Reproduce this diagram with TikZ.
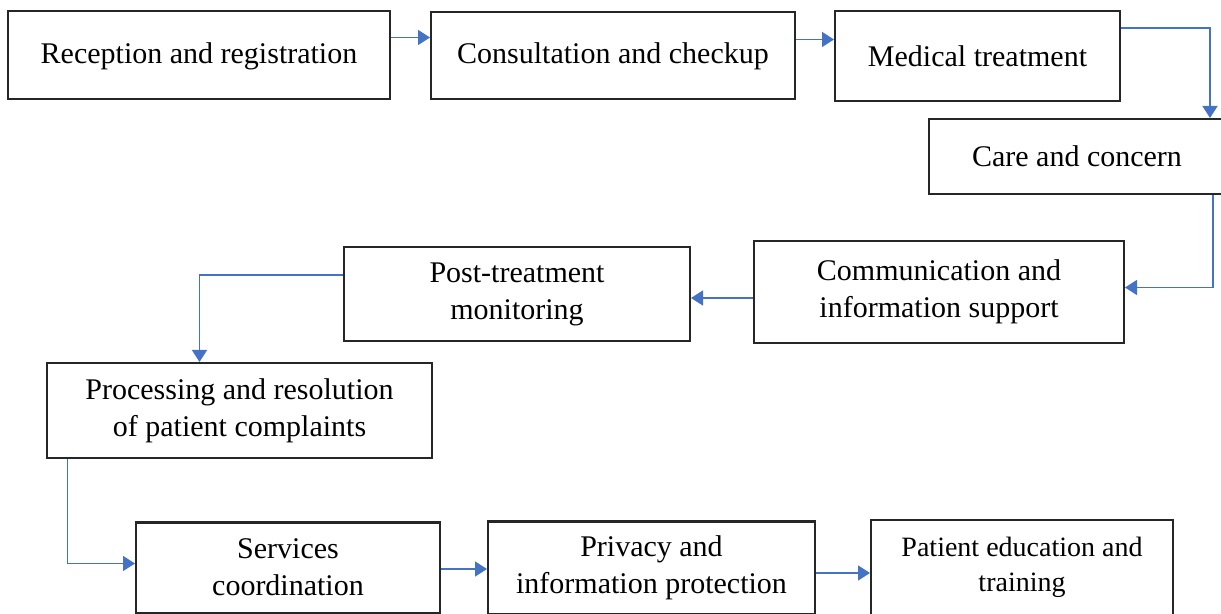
\documentclass[tikz,border=0pt]{standalone}
\usepackage{fontspec}
\setmainfont{Liberation Serif}
\usetikzlibrary{arrows.meta}
\definecolor{flowblue}{RGB}{68,114,196}

\begin{document}
\begin{tikzpicture}[x=0.5pt,y=-0.5pt]

\tikzset{stage/.style = {shape=rectangle,draw=black!85,line width=1pt,inner sep=0pt,align=center,font=\fontsize{15pt}{18.5pt}\selectfont}}
\tikzset{edge/.style = {->,> = {Triangle[length=6pt,width=7.5pt]},draw=flowblue,line width=0.75pt}}
\useasboundingbox (0,0) rectangle (1221,614);
%stages
\node[stage, minimum width=191pt, minimum height=44pt, text depth=2pt] (rec) at (199,55.5) {Reception and registration};
\node[stage, minimum width=182pt, minimum height=43.5pt, text depth=2pt] (cons) at (613,55.5) {Consultation and checkup};
\node[stage, minimum width=142.5pt, minimum height=45pt] (med) at (977.5,56) {Medical treatment};
\node[stage, minimum width=148pt, minimum height=37.5pt] (care) at (1077,156.5) {Care and concern};
\node[stage, minimum width=185pt, minimum height=51pt] (comm) at (939,292) {Communication and\\information support};
\node[stage, minimum width=173pt, minimum height=47pt] (post) at (517,294) {Post-treatment\\monitoring};
\node[stage, minimum width=192.5pt, minimum height=47.5pt] (proc) at (239.5,410.5) {Processing and resolution\\of patient complaints};
\node[stage, minimum width=152pt, minimum height=45pt] (serv) at (288,567.5) {Services\\coordination};
\node[stage, minimum width=163.5pt, minimum height=46pt] (priv) at (651.5,567.5) {Privacy and\\information protection};
\node[stage, minimum width=151pt, minimum height=47pt, font=\fontsize{14pt}{17.5pt}\selectfont] (edu) at (1022,567.5) {Patient education and\\training};
%edges
\draw [edge] ([yshift=9pt]rec.east) -- ([yshift=9pt]rec.east -| cons.west);
\draw [edge] ([yshift=8pt]cons.east) -- ([yshift=8pt]cons.east -| med.west);
\draw [edge] ([yshift=14pt]med.east) -| ([xshift=66.5pt]care.north);
\draw [edge] ([xshift=68pt]care.south) |- ([yshift=2.25pt]comm.east);
\draw [edge] ([yshift=-3pt]comm.west) -- ([yshift=-3pt]comm.west -| post.east);
\draw [edge] ([yshift=9.5pt]post.west) -| ([xshift=-20pt]proc.north);
\draw [edge] ([xshift=-86pt]proc.south) |- ([yshift=2pt]serv.west);
\draw [edge] ([yshift=-0.75pt]serv.east) -- ([yshift=-0.75pt]serv.east -| priv.west);
\draw [edge] ([yshift=-2.75pt]priv.east) -- ([yshift=-2.75pt]priv.east -| edu.west);

\end{tikzpicture}
\end{document}
